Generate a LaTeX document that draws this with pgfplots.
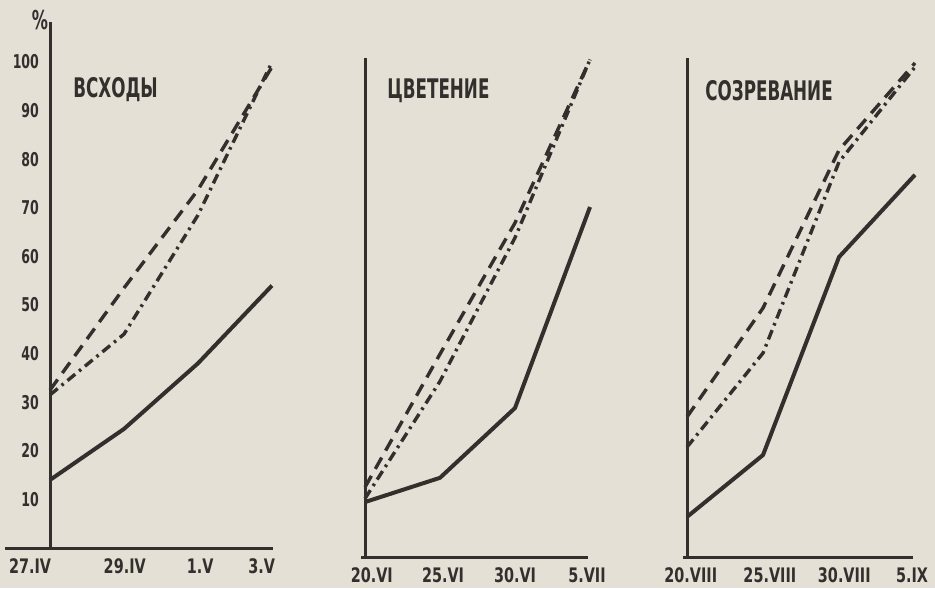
\documentclass[border=0pt]{standalone}
\usepackage{fontspec}
\setmainfont{DejaVu Sans}
\usepackage{graphicx}
\usepackage{pgfplots}
\pgfplotsset{compat=1.18}
\definecolor{paper}{RGB}{228,224,214}
\definecolor{ink}{RGB}{50,47,45}
\newcommand{\hy}[1]{\scalebox{0.66}[1]{\bfseries #1}}
\newcommand{\hx}[1]{\scalebox{0.72}[1]{\bfseries #1}}
\newcommand{\htit}[1]{\scalebox{0.62}[1]{\bfseries #1}}
\begin{document}
\begin{tikzpicture}[x=0.5pt,y=0.5pt]
\fill[paper] (0,0) rectangle (935,588);
\useasboundingbox (0,0) rectangle (935,588);
\pgfplotsset{
  panel/.style={
    anchor=origin, clip=false, enlargelimits=false,
    axis lines=middle,
    axis line style={-, line width=1.5pt, ink},
    every inner x axis line/.append style={-},
    every inner y axis line/.append style={-},
    hide obscured x ticks=false, hide obscured y ticks=false,
    major tick length=0pt,
    xticklabel style={font=\fontsize{10}{12}\selectfont, text=ink, yshift=-2pt},
    yticklabel style={font=\fontsize{9.5}{11}\selectfont, text=ink, xshift=-2pt},
    ytick=\empty,
  },
  sol/.style={ink, line width=2pt, line join=round},
  dsh/.style={ink, line width=1.7pt, dash pattern=on 6.5pt off 4pt},
  dd/.style={ink, line width=1.7pt, dash pattern=on 5pt off 2.5pt on 1.3pt off 2.5pt},
}
% Panel 1: ВСХОДЫ
\begin{axis}[panel, at={(25pt,20pt)}, x=37pt, y=2.43pt,
  xmin=-0.61, xmax=3.02, ymin=0, ymax=108.2,
  xtick={-0.27,1.01,2.03,2.86},
  xticklabels={\hx{27.IV},\hx{29.IV},\hx{1.V},\hx{3.V}},
  ytick={10,20,30,40,50,60,70,80,90,100},
  yticklabels={\hy{10},\hy{20},\hy{30},\hy{40},\hy{50},\hy{60},\hy{70},\hy{80},\hy{90},\hy{100}},
]
\addplot[sol] coordinates {(0,14) (1,24.5) (2,38) (3,54)};
\addplot[dsh] coordinates {(0,32.5) (1,53.5) (2,73.7) (3,99)};
\addplot[dd] coordinates {(0,31.5) (1,44) (2,68.5) (3,100)};
\end{axis}
% Panel 2: ЦВЕТЕНИЕ
\begin{axis}[panel, at={(182.5pt,15.5pt)}, x=37.5pt, y=2.475pt,
  xmin=-0.05, xmax=2.97, ymin=0, ymax=100.8,
  xtick={0.09,1.04,2.0,2.96},
  xticklabels={\hx{20.VI},\hx{25.VI},\hx{30.VI},\hx{5.VII}},
]
\addplot[sol] coordinates {(0,11.1) (1,16.0) (2,30.1) (3,70.7)};
\addplot[dsh] coordinates {(0,14.1) (1,41) (2,67.5) (3,100.5)};
\addplot[dd] coordinates {(0,11.8) (1,35.5) (2,64.5) (3,100.5)};
\end{axis}
% Panel 3: СОЗРЕВАНИЕ
\begin{axis}[panel, at={(343.5pt,15.5pt)}, x=38pt, y=2.475pt,
  xmin=-0.05, xmax=2.97, ymin=0, ymax=100.8,
  xtick={0.05,1.09,2.07,2.96},
  xticklabels={\hx{20.VIII},\hx{25.VIII},\hx{30.VIII},\hx{5.IX}},
]
\addplot[sol] coordinates {(0,8.1) (1,20.6) (2,60.6) (3,77.2)};
\addplot[dsh] coordinates {(0,28.3) (1,50.3) (2,82.2) (3,99.8)};
\addplot[dd] coordinates {(0,22.2) (1,41.2) (2,79.8) (3,99)};
\end{axis}
\node[text=ink, font=\fontsize{13}{15}\selectfont] at (40,568) {\htit{\%}};
\node[anchor=west, text=ink, inner sep=0pt, font=\fontsize{13.5}{16}\selectfont] at (73,498) {\htit{ВСХОДЫ}};
\node[anchor=west, text=ink, inner sep=0pt, font=\fontsize{13.5}{16}\selectfont] at (387,497) {\htit{ЦВЕТЕНИЕ}};
\node[anchor=west, text=ink, inner sep=0pt, font=\fontsize{13.5}{16}\selectfont] at (705,497) {\htit{СОЗРЕВАНИЕ}};
\end{tikzpicture}
\end{document}
